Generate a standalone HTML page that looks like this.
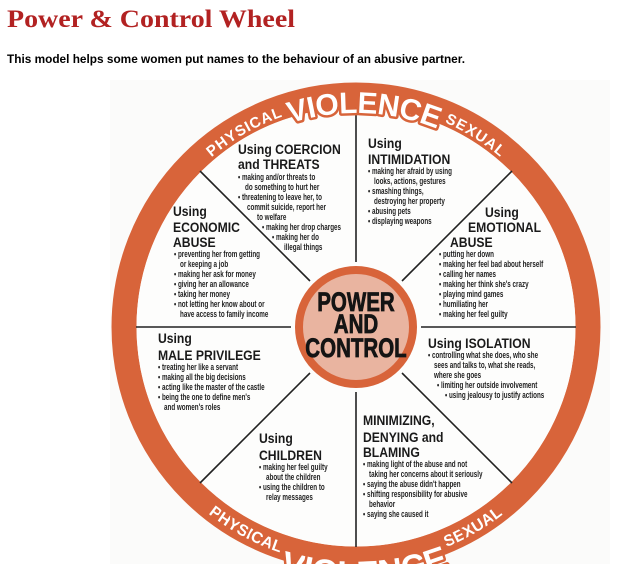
<!DOCTYPE html>
<html><head><meta charset="utf-8"><style>
html,body{margin:0;padding:0;background:#fff;width:635px;height:564px;overflow:hidden;}
svg{display:block;overflow:hidden;}
.h{font-family:"Liberation Sans",Arial,sans-serif;font-weight:bold;font-size:14px;fill:#1a1a1a;}
.b{font-family:"Liberation Sans",Arial,sans-serif;font-weight:bold;font-size:9px;fill:#222;}
.c{font-family:"Liberation Sans",Arial,sans-serif;font-weight:bold;font-size:27px;fill:#141414;stroke:#141414;stroke-width:0.8;}
.r{font-family:"Liberation Sans",Arial,sans-serif;font-weight:bold;fill:#fff;}
</style></head><body>
<svg width="635" height="564" viewBox="0 0 635 564" xmlns="http://www.w3.org/2000/svg">
<defs>
<clipPath id="cl"><rect x="0" y="0" width="635" height="564"/></clipPath>
<path id="tp" d="M142,327 A214,214 0 0 1 570,327"/>
<path id="bp" d="M98,327 A258,258 0 0 0 614,327"/>
</defs>
<g clip-path="url(#cl)">
<text x="7" y="27" textLength="288" lengthAdjust="spacingAndGlyphs" style="font-family:'Liberation Serif',serif;font-weight:bold;font-size:25px;fill:#b22222">Power &amp; Control Wheel</text>
<text x="7" y="63" textLength="458" lengthAdjust="spacingAndGlyphs" style="font-family:'Liberation Sans',sans-serif;font-weight:bold;font-size:12px;fill:#000">This model helps some women put names to the behaviour of an abusive partner.</text>
<rect x="110" y="80" width="500" height="484" fill="#fbfbfa"/>
<circle cx="356" cy="327" r="232" fill="none" stroke="#d8643a" stroke-width="25"/>
<circle cx="356" cy="327" r="219.5" fill="#fdfdfc"/>
<g stroke="#222" stroke-width="1.6">
<line x1="356" y1="107" x2="356" y2="262"/>
<line x1="356" y1="392" x2="356" y2="547"/>
<line x1="136" y1="327" x2="291" y2="327"/>
<line x1="421" y1="327" x2="576" y2="327"/>
<line x1="200" y1="171" x2="310" y2="281"/>
<line x1="512" y1="171" x2="402" y2="281"/>
<line x1="200" y1="483" x2="310" y2="373"/>
<line x1="512" y1="483" x2="402" y2="373"/>
</g>
<circle cx="356" cy="327" r="57" fill="#e9b4a0" stroke="#d8643a" stroke-width="8"/>
<text class="r" text-anchor="middle" stroke="#d8643a" stroke-width="5" paint-order="stroke" stroke-linejoin="round"><textPath href="#tp" startOffset="50%"><tspan font-size="15" dy="-9" letter-spacing="0.5">PHYSICAL </tspan><tspan font-size="30" dy="9" letter-spacing="-0.5">VIOLENCE</tspan><tspan font-size="15" dy="-9" letter-spacing="0.5"> SEXUAL</tspan></textPath></text>
<text class="r" text-anchor="middle" stroke="#d8643a" stroke-width="5" paint-order="stroke" stroke-linejoin="round"><textPath href="#bp" startOffset="50%"><tspan font-size="16" dy="-20" letter-spacing="1">PHYSICAL </tspan><tspan font-size="34" dy="20" letter-spacing="0">VIOLENCE</tspan><tspan font-size="16" dy="-20" letter-spacing="1"> SEXUAL</tspan></textPath></text>

<g class="c" text-anchor="middle">
<text transform="translate(356,311) scale(0.76,1)">POWER</text>
<text transform="translate(356,333) scale(0.76,1)">AND</text>
<text transform="translate(356,357) scale(0.76,1)">CONTROL</text>
</g>

<g class="h">
<text transform="translate(238,154) scale(0.87,1)">Using COERCION</text>
<text transform="translate(238,169) scale(0.87,1)">and THREATS</text>
<text transform="translate(368,148) scale(0.87,1)">Using</text>
<text transform="translate(368,164) scale(0.87,1)">INTIMIDATION</text>
<text transform="translate(485,217) scale(0.87,1)">Using</text>
<text transform="translate(468,232) scale(0.87,1)">EMOTIONAL</text>
<text transform="translate(450,247) scale(0.87,1)">ABUSE</text>
<text transform="translate(173,216) scale(0.87,1)">Using</text>
<text transform="translate(173,232) scale(0.87,1)">ECONOMIC</text>
<text transform="translate(173,247) scale(0.87,1)">ABUSE</text>
<text transform="translate(158,343) scale(0.87,1)">Using</text>
<text transform="translate(158,360) scale(0.87,1)">MALE PRIVILEGE</text>
<text transform="translate(428,348) scale(0.87,1)">Using ISOLATION</text>
<text transform="translate(259,443) scale(0.87,1)">Using</text>
<text transform="translate(259,460) scale(0.87,1)">CHILDREN</text>
<text transform="translate(363,425) scale(0.87,1)">MINIMIZING,</text>
<text transform="translate(363,442) scale(0.87,1)">DENYING and</text>
<text transform="translate(363,457) scale(0.87,1)">BLAMING</text>
</g>

<g class="b">
<text transform="translate(238,180) scale(0.7,1)">• making and/or threats to</text>
<text transform="translate(245,190) scale(0.7,1)">do something to hurt her</text>
<text transform="translate(238,200) scale(0.7,1)">• threatening to leave her, to</text>
<text transform="translate(247,210) scale(0.7,1)">commit suicide, report her</text>
<text transform="translate(257,220) scale(0.7,1)">to welfare</text>
<text transform="translate(262,230) scale(0.7,1)">• making her drop charges</text>
<text transform="translate(272,240) scale(0.7,1)">• making her do</text>
<text transform="translate(284,250) scale(0.7,1)">illegal things</text>

<text transform="translate(368,174) scale(0.7,1)">• making her afraid by using</text>
<text transform="translate(374,184) scale(0.7,1)">looks, actions, gestures</text>
<text transform="translate(368,194) scale(0.7,1)">• smashing things,</text>
<text transform="translate(374,204) scale(0.7,1)">destroying her property</text>
<text transform="translate(368,214) scale(0.7,1)">• abusing pets</text>
<text transform="translate(368,224) scale(0.7,1)">• displaying weapons</text>

<text transform="translate(439,257) scale(0.7,1)">• putting her down</text>
<text transform="translate(439,267) scale(0.7,1)">• making her feel bad about herself</text>
<text transform="translate(439,277) scale(0.7,1)">• calling her names</text>
<text transform="translate(439,287) scale(0.7,1)">• making her think she's crazy</text>
<text transform="translate(439,297) scale(0.7,1)">• playing mind games</text>
<text transform="translate(439,307) scale(0.7,1)">• humiliating her</text>
<text transform="translate(439,317) scale(0.7,1)">• making her feel guilty</text>

<text transform="translate(174,257) scale(0.7,1)">• preventing her from getting</text>
<text transform="translate(180,267) scale(0.7,1)">or keeping a job</text>
<text transform="translate(174,277) scale(0.7,1)">• making her ask for money</text>
<text transform="translate(174,287) scale(0.7,1)">• giving her an allowance</text>
<text transform="translate(174,297) scale(0.7,1)">• taking her money</text>
<text transform="translate(174,307) scale(0.7,1)">• not letting her know about or</text>
<text transform="translate(180,317) scale(0.7,1)">have access to family income</text>

<text transform="translate(158,370) scale(0.7,1)">• treating her like a servant</text>
<text transform="translate(158,380) scale(0.7,1)">• making all the big decisions</text>
<text transform="translate(158,390) scale(0.7,1)">• acting like the master of the castle</text>
<text transform="translate(158,400) scale(0.7,1)">• being the one to define men's</text>
<text transform="translate(164,410) scale(0.7,1)">and women's roles</text>

<text transform="translate(428,358) scale(0.7,1)">• controlling what she does, who she</text>
<text transform="translate(434,368) scale(0.7,1)">sees and talks to, what she reads,</text>
<text transform="translate(434,378) scale(0.7,1)">where she goes</text>
<text transform="translate(437,388) scale(0.7,1)">• limiting her outside involvement</text>
<text transform="translate(445,398) scale(0.7,1)">• using jealousy to justify actions</text>

<text transform="translate(259,470) scale(0.7,1)">• making her feel guilty</text>
<text transform="translate(266,480) scale(0.7,1)">about the children</text>
<text transform="translate(259,490) scale(0.7,1)">• using the children to</text>
<text transform="translate(266,500) scale(0.7,1)">relay messages</text>

<text transform="translate(363,467) scale(0.7,1)">• making light of the abuse and not</text>
<text transform="translate(369,477) scale(0.7,1)">taking her concerns about it seriously</text>
<text transform="translate(363,487) scale(0.7,1)">•  saying the abuse didn't happen</text>
<text transform="translate(363,497) scale(0.7,1)">• shifting responsibility for abusive</text>
<text transform="translate(369,507) scale(0.7,1)">behavior</text>
<text transform="translate(363,517) scale(0.7,1)">• saying she caused it</text>
</g>
</g>
</svg>
</body></html>
